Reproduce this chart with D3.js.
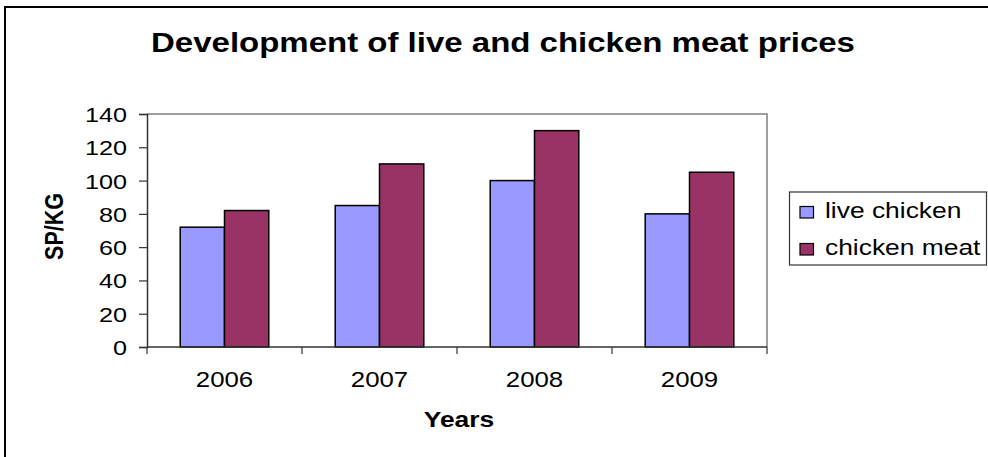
<!DOCTYPE html>
<html>
<head>
<meta charset="utf-8">
<script src="https://cdn.jsdelivr.net/npm/d3@7"></script>
<style>
  html, body { margin: 0; padding: 0; background: #fff; overflow: hidden; }
  svg { display: block; font-family: "Liberation Sans", Arial, sans-serif; }
</style>
</head>
<body>
<svg id="chart" width="988" height="457"></svg>
<script>
const years = ["2006", "2007", "2008", "2009"];
const seriesNames = ["live chicken", "chicken meat"];
const liveChicken = [72, 85, 100, 80];
const chickenMeat = [82, 110, 130, 105];
const yTicks = [0, 20, 40, 60, 80, 100, 120, 140];
const titleText = "Development of live and chicken meat prices";
const xTitle = "Years";
const yTitle = "SP/KG";

const colors = ["#9999FF", "#993366"];
const SX = 1.2; // horizontal stretch of the reference's text

const svg = d3.select("#chart");

// outer frame (only left and top edges are visible in the reference)
svg.append("path").attr("d", "M5,457V7H988")
  .attr("fill", "none").attr("stroke", "#000").attr("stroke-width", 2);

const plot = { left: 147, right: 767, top: 114, bottom: 347 };

const x0 = d3.scaleBand().domain(years).range([plot.left, plot.right]).padding(0);
const x1 = d3.scaleBand().domain(seriesNames).range([0, x0.bandwidth()])
  .paddingInner(0).paddingOuter(0.75);
const y = d3.scaleLinear().domain([0, 140]).range([plot.bottom, plot.top]);

// plot border top/right
svg.append("path")
  .attr("d", `M${plot.left},${plot.top}H${plot.right}V${plot.bottom}`)
  .attr("fill", "none").attr("stroke", "#808080").attr("stroke-width", 1.5);

// bars
const data = years.map((yr, i) => ({ year: yr, values: [liveChicken[i], chickenMeat[i]] }));
const groups = svg.append("g").selectAll("g").data(data).join("g")
  .attr("transform", d => `translate(${x0(d.year)},0)`);
groups.selectAll("rect").data(d => d.values.map((v, k) => ({ k, v }))).join("rect")
  .attr("x", d => x1(seriesNames[d.k]))
  .attr("y", d => y(d.v))
  .attr("width", x1.bandwidth())
  .attr("height", d => y(0) - y(d.v))
  .attr("fill", d => colors[d.k])
  .attr("stroke", "#000").attr("stroke-width", 1.5);

// y axis
const yAxis = svg.append("g").attr("transform", `translate(${plot.left},0)`)
  .call(d3.axisLeft(y).tickValues(yTicks).tickSize(8).tickPadding(0).tickFormat(d3.format("d")));
yAxis.select(".domain").attr("stroke", "#333").attr("stroke-width", 1.5);
yAxis.selectAll(".tick line").attr("stroke", "#333").attr("stroke-width", 1.2);
yAxis.selectAll(".tick text").remove();
yAxis.selectAll(".tick").append("text")
  .attr("transform", `translate(-20,7.5) scale(${SX},1)`)
  .attr("text-anchor", "end")
  .attr("font-size", 21).attr("fill", "#000")
  .text(d => d);

// x axis with ticks at category boundaries
const xAxisG = svg.append("g").attr("transform", `translate(0,${plot.bottom})`);
xAxisG.append("line").attr("x1", plot.left).attr("x2", plot.right)
  .attr("stroke", "#333").attr("stroke-width", 1.5);
const boundaries = years.map(yr => x0(yr)).concat([x0(years[years.length - 1]) + x0.bandwidth()]);
xAxisG.selectAll("line.tk").data(boundaries).join("line").attr("class", "tk")
  .attr("x1", d => d).attr("x2", d => d).attr("y1", 0).attr("y2", 7)
  .attr("stroke", "#333").attr("stroke-width", 1.2);
xAxisG.selectAll("text").data(years).join("text")
  .attr("transform", d => `translate(${x0(d) + x0.bandwidth() / 2},40) scale(${SX},1)`)
  .attr("text-anchor", "middle").attr("font-size", 21.5).attr("fill", "#000")
  .text(d => d);

// title
svg.append("text")
  .attr("transform", `translate(503,52) scale(${SX},1)`)
  .attr("text-anchor", "middle").attr("font-size", 27.5).attr("font-weight", "bold")
  .text(titleText);

// axis titles
svg.append("text")
  .attr("transform", `translate(459,427) scale(${SX},1)`)
  .attr("text-anchor", "middle").attr("font-size", 22).attr("font-weight", "bold")
  .text(xTitle);
svg.append("text")
  .attr("transform", `translate(63,226.5) scale(${SX},1) rotate(-90)`)
  .attr("text-anchor", "middle").attr("font-size", 21.5).attr("font-weight", "bold")
  .text(yTitle);

// legend
const lg = svg.append("g");
lg.append("rect").attr("x", 789.5).attr("y", 192).attr("width", 197).attr("height", 73)
  .attr("fill", "#fff").attr("stroke", "#333").attr("stroke-width", 1.2);
const items = lg.selectAll("g").data(seriesNames).join("g")
  .attr("transform", (d, i) => `translate(0,${i * 37})`);
items.append("rect").attr("x", 800).attr("y", 206.5).attr("width", 13.5).attr("height", 11.5)
  .attr("fill", (d, i) => colors[i]).attr("stroke", "#000").attr("stroke-width", 1.2);
items.append("text")
  .attr("transform", `translate(825,218) scale(${SX},1)`)
  .attr("font-size", 22).attr("fill", "#000")
  .text(d => d);
</script>
</body>
</html>
